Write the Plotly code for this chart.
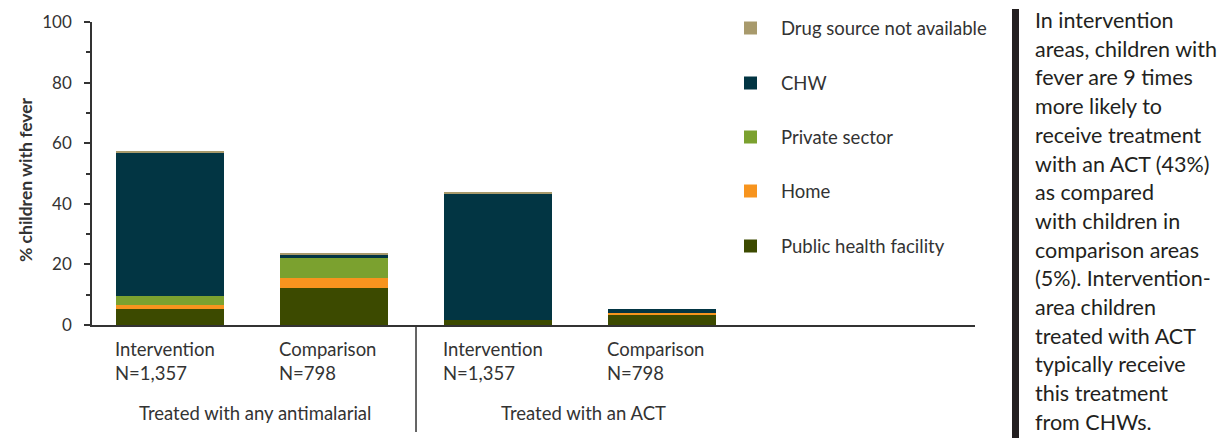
import plotly.graph_objects as go

# ---- data ----
bar_labels = ["Intervention<br>N=1,357", "Comparison<br>N=798", "Intervention<br>N=1,357", "Comparison<br>N=798"]
group_labels = ["Treated with any antimalarial", "Treated with an ACT"]
series_names = ["Public health facility", "Home", "Private sector", "CHW", "Drug source not available"]
public_health = [5.3, 12.2, 1.7, 3.3]
home = [1.3, 3.3, 0.0, 0.6]
private_sector = [3.0, 6.6, 0.0, 0.0]
chw = [47.2, 1.3, 41.6, 1.3]
drug_na = [0.7, 0.4, 0.3, 0.0]
y_ticks = [0, 20, 40, 60, 80, 100]
side_text = [
    "In intervention", "areas, children with", "fever are 9 times", "more likely to",
    "receive treatment", "with an ACT (43%)", "as compared", "with children in",
    "comparison areas", "(5%). Intervention-", "area children", "treated with ACT",
    "typically receive", "this treatment", "from CHWs.",
]

colors = ["#3C4A00", "#F7941E", "#7BA12F", "#023543", "#A89A6C"]
values = [public_health, home, private_sector, chw, drug_na]
xpos = list(range(len(bar_labels)))

FONT = "Lato"
TXT = "#333333"

# page geometry (the html body has an 8px margin)
OFF = 8
W, H = 1227 - OFF, 438 - OFF
PX0, PX1 = 92, 975    # plot area left/right in page px
PY0, PY1 = 22, 325    # plot area top/bottom in page px
L, R, T, B = PX0 - OFF, W - (PX1 - OFF), PY0 - OFF, H - (PY1 - OFF)


def px(x):
    return (x - PX0) / (PX1 - PX0)


def py(y):
    return (PY1 - y) / (PY1 - PY0)


fig = go.Figure()
for name, vals, col in zip(series_names, values, colors):
    fig.add_trace(go.Bar(
        x=xpos, y=vals, name=name, marker=dict(color=col, line=dict(width=0)),
        width=0.66, showlegend=False,
    ))

fig.update_layout(
    width=W, height=H,
    barmode="stack",
    plot_bgcolor="white", paper_bgcolor="white",
    margin=dict(l=L, r=R, t=T, b=B, autoexpand=False),
    font=dict(family=FONT, size=18.5, color=TXT),
    xaxis=dict(range=[-0.476, 4.909], showticklabels=False, ticks="",
               showline=True, linecolor="#333333", linewidth=2, showgrid=False, zeroline=False,
               fixedrange=True),
    yaxis=dict(range=[0, 100], tickvals=y_ticks, ticks="outside", ticklen=6, tickwidth=1.5,
               tickcolor="#333333", showline=True, linecolor="#333333", linewidth=1.5,
               showgrid=False, zeroline=False, tickfont=dict(size=17, color=TXT),
               ticklabelstandoff=9,
               minor=dict(ticks="outside", ticklen=4, dtick=10, tickcolor="#333333", tickwidth=1.5)),
    showlegend=False,
)

# y-axis title
fig.add_annotation(x=px(25), xref="paper", y=py(180), yref="paper", text="<b>% children with fever</b>",
                   textangle=-90, showarrow=False, xanchor="center", yanchor="middle",
                   font=dict(size=17.5, color=TXT))

# legend (top-to-bottom order is reverse of stacking order)
leg_y = [28, 83, 137, 191, 246]
for (name, col), yc in zip(list(zip(series_names, colors))[::-1], leg_y):
    fig.add_shape(type="rect", xref="paper", yref="paper",
                  x0=px(744), x1=px(757), y0=py(yc + 6.5), y1=py(yc - 6.5),
                  fillcolor=col, line=dict(width=0))
    fig.add_annotation(x=px(779), xref="paper", y=py(yc), yref="paper", text=name,
                       showarrow=False, xanchor="left", yanchor="middle",
                       font=dict(size=18.5, color=TXT))

# category labels under bars (left aligned at bar left edge)
for xi, lab in zip(xpos, bar_labels):
    fig.add_annotation(x=xi - 0.345, xref="x", y=py(336), yref="paper",
                       text=lab, showarrow=False, xanchor="left", yanchor="top", align="left",
                       font=dict(size=18.5, color=TXT))
# group labels
for gi, lab in enumerate(group_labels):
    fig.add_annotation(x=0.5 + 2 * gi + 0.02, xref="x", y=py(413), yref="paper",
                       text=lab, showarrow=False, xanchor="center", yanchor="middle",
                       font=dict(size=18.5, color=TXT))
# group separator
fig.add_shape(type="line", xref="x", yref="paper", x0=1.5, x1=1.5, y0=0, y1=py(432),
              line=dict(color="#333333", width=1.5))

# side panel bar and text
fig.add_shape(type="rect", xref="paper", yref="paper",
              x0=px(1012), x1=px(1019), y0=py(438), y1=py(9),
              fillcolor="#231F20", line=dict(width=0))
for k, line in enumerate(side_text):
    yc = 20 + k * 28.7
    fig.add_annotation(x=px(1033), xref="paper", y=py(yc), yref="paper",
                       text=line, showarrow=False, xanchor="left", yanchor="middle",
                       font=dict(size=21.5, color="#231F20"))

fig.write_html("out.html")
